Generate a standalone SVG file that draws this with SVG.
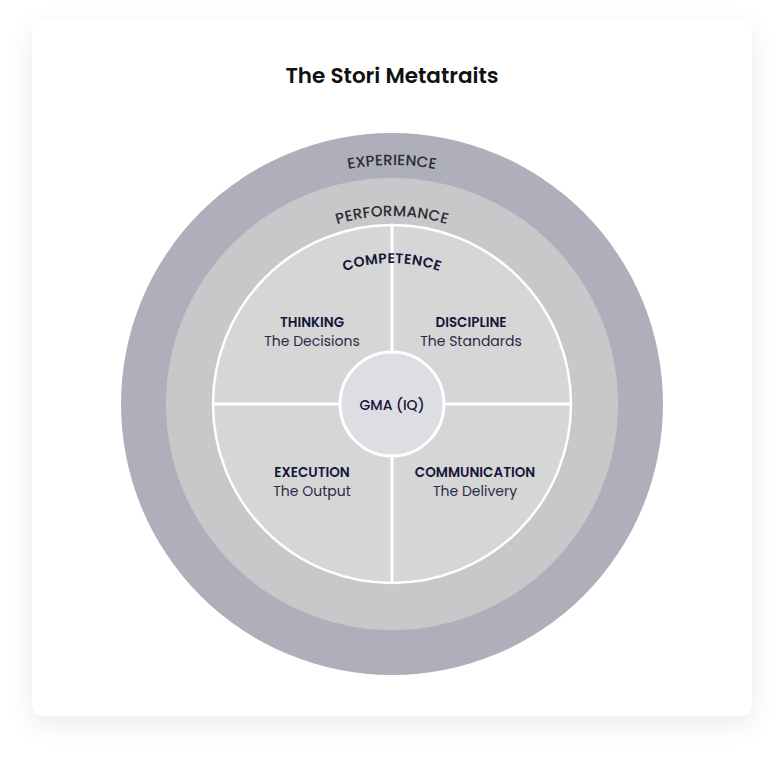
<svg xmlns="http://www.w3.org/2000/svg" width="784" height="760" viewBox="0 0 784 760">
<defs>
<filter id="sh" x="-20%" y="-20%" width="140%" height="140%">
<feDropShadow dx="0" dy="8" stdDeviation="12" flood-color="#000" flood-opacity="0.08"/>
</filter>
<path id="arcExp" d="M153,404 A239,239 0 0 1 631,404"/>
<path id="arcPerf" d="M204,404 A188,188 0 0 1 580,404"/>
<path id="arcComp" d="M251,404 A141,141 0 0 1 533,404"/>
<style>
text{font-family:Poppins,Inter,"Noto Sans","Liberation Sans",sans-serif}
.title{font-size:21.5px;font-weight:600;fill:#111}
.ring{font-size:15px;font-weight:500;fill:#2b2b30;letter-spacing:0.2px}
.comp{font-size:14px;font-weight:600;fill:#15163a;letter-spacing:0.3px}
.h{font-size:13.5px;font-weight:600;fill:#15163a;text-anchor:middle}
.s{font-size:14px;fill:#2a2b45;text-anchor:middle}
.div{stroke:#fff;stroke-width:3;fill:none}
</style>
</defs>
<rect x="32" y="20" width="720" height="696" rx="12" fill="#fff" filter="url(#sh)"/>
<text class="title" x="392" y="83" text-anchor="middle">The Stori Metatraits</text>
<g id="experience">
<circle cx="392" cy="404" r="271" fill="#afafbc"/>
<text class="ring"><textPath href="#arcExp" startOffset="50%" text-anchor="middle">EXPERIENCE</textPath></text>
</g>
<g id="performance">
<circle cx="392" cy="404" r="226" fill="#c8c8ca"/>
<text class="ring"><textPath href="#arcPerf" startOffset="50%" text-anchor="middle">PERFORMANCE</textPath></text>
</g>
<g id="competence">
<circle cx="392" cy="404" r="179" fill="#d6d6d6" stroke="#fff" stroke-width="2.5"/>
</g>
<g id="connectors">
<line class="div" x1="392" y1="225" x2="392" y2="583"/>
<line class="div" x1="213" y1="404" x2="571" y2="404"/>
</g>
<g id="competence-label">
<text class="comp"><textPath href="#arcComp" startOffset="50%" text-anchor="middle">COMPETENCE</textPath></text>
</g>
<g id="thinking">
<text class="h" x="312" y="327">THINKING</text>
<text class="s" x="312" y="346">The Decisions</text>
</g>
<g id="discipline">
<text class="h" x="471" y="327">DISCIPLINE</text>
<text class="s" x="471" y="346">The Standards</text>
</g>
<g id="execution">
<text class="h" x="312" y="477">EXECUTION</text>
<text class="s" x="312" y="496">The Output</text>
</g>
<g id="communication">
<text class="h" x="475" y="477">COMMUNICATION</text>
<text class="s" x="475" y="496">The Delivery</text>
</g>
<g id="gma">
<circle cx="392" cy="404" r="52" fill="#dedde3" stroke="#fff" stroke-width="3"/>
<text x="392" y="410" text-anchor="middle" font-size="14" font-weight="500" fill="#15163a">GMA (IQ)</text>
</g>
</svg>
